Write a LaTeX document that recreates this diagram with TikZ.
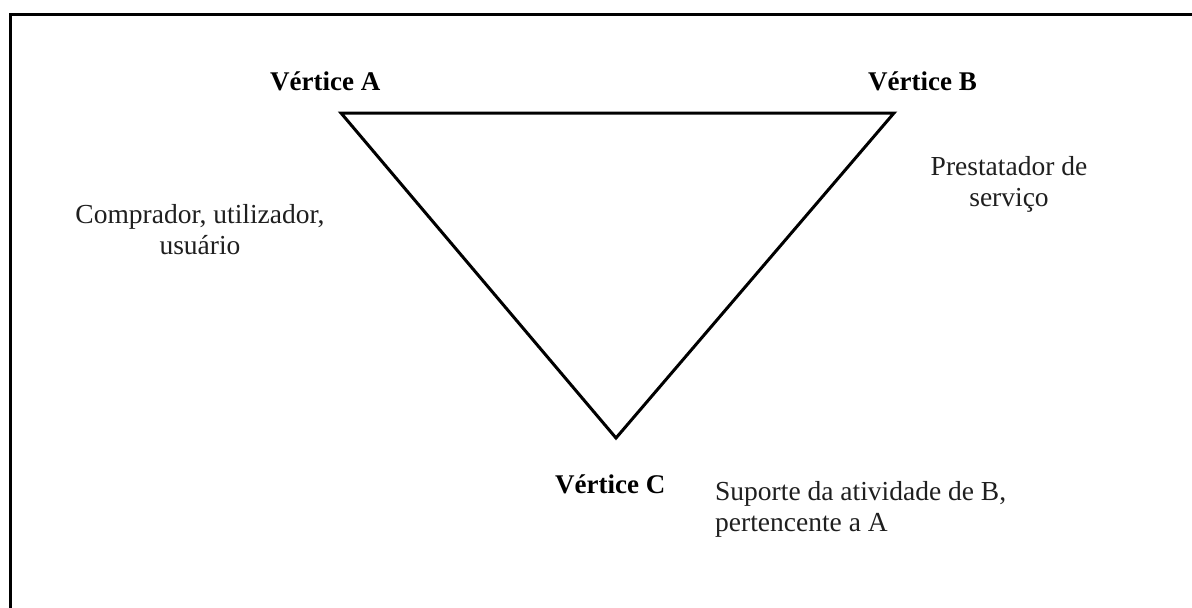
\documentclass[tikz,border=0pt]{standalone}
\usepackage{fontspec}
\setmainfont{Liberation Serif}
\begin{document}
\begin{tikzpicture}[x=1pt,y=-1pt,
  vlabel/.style={inner sep=0pt,font=\fontsize{27}{30}\selectfont\bfseries,anchor=base west},
  desc/.style={inner sep=0pt,font=\fontsize{27.5}{31}\selectfont,text=black!88},
  edge/.style={line width=3pt,line join=miter}]
\useasboundingbox (0,0) rectangle (1192,608);
\fill[white] (0,0) rectangle (1192,608);
% frame
\coordinate (fbl) at (10,608);
\coordinate (ftl) at (10,14);
\coordinate (ftr) at (1192,14);
\draw[line width=3pt] (fbl) -- (ftl) -- (ftr);
% triangle vertices
\coordinate (A) at (341,113);
\coordinate (B) at (894,113);
\coordinate (C) at (616,438);
\draw[edge] (A) -- (B) -- (C) -- cycle;
% vertex labels
\node[vlabel] (la) at (270,90) {Vértice A};
\node[vlabel] (lb) at (868,90) {Vértice B};
\node[vlabel] (lc) at (555,493) {Vértice C};
% descriptions (base = baseline of last line)
\node[desc,anchor=base,align=center] (da) at (200,254) {Comprador, utilizador,\\usuário};
\node[desc,anchor=base,align=center] (db) at (1009,206) {Prestatador de\\serviço};
\node[desc,anchor=base west,align=left] (dc) at (715,531) {Suporte da atividade de B,\\pertencente a A};
\end{tikzpicture}
\end{document}
